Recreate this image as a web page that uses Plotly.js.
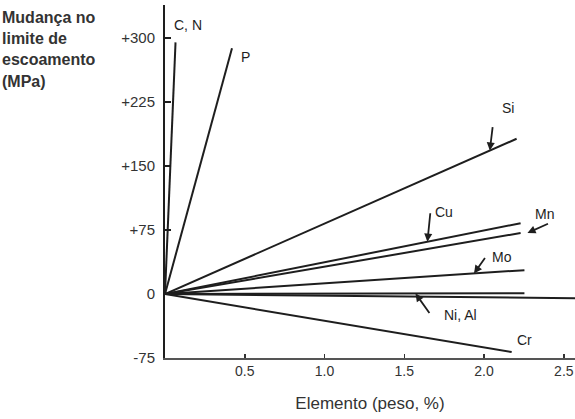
<!DOCTYPE html>
<html>
<head>
<meta charset="utf-8">
<script src="https://cdn.plot.ly/plotly-3.0.1.min.js"></script>
<style>html,body{margin:0;padding:0;background:#fff;}#chart{width:575px;height:419px;}</style>
</head>
<body>
<div id="chart"></div>
<script>
// Element lines: each starts at the origin and ends at (endWt, endMPa)
const elements = ['C, N', 'P', 'Si', 'Cu', 'Mn', 'Mo', 'Ni', 'Al', 'Cr'];
const endWt   = [0.066, 0.42, 2.204, 2.229, 2.229, 2.253, 2.253, 2.57, 2.173];
const endMPa  = [295, 288, 182, 83, 71.5, 28, 1, -5, -68];

const yTickVals = [300, 225, 150, 75, 0, -75];
const yTickText = ['+300', '+225', '+150', '+75', '0', '-75'];
const xTickVals = [0.5, 1.0, 1.5, 2.0, 2.5];
const xTickText = ['0.5', '1.0', '1.5', '2.0', '2.5'];

const labelTexts = ['C, N', 'P', 'Si', 'Cu', 'Mn', 'Mo', 'Ni, Al', 'Cr'];

const ink = '#1e1e1e';
const traces = elements.map((el, i) => ({
  type: 'scatter', mode: 'lines', name: el,
  x: [0, endWt[i]], y: [0, endMPa[i]],
  line: {color: ink, width: 2},
  hoverinfo: 'skip', showlegend: false
}));

// label placement (layout only)
const labelPos = [[0.147, 315], [0.507, 278], [2.148, 218], [1.75, 96], [2.377, 94], [2.11, 43], [1.85, -25], [2.253, -54]];
const annotations = labelTexts.map((t, i) => ({
  x: labelPos[i][0], y: labelPos[i][1], xref: 'x', yref: 'y', text: t, showarrow: false,
  font: {family: 'Liberation Sans, Arial, sans-serif', size: 14, color: ink}
}));

// pointer arrows: head on the line, tail offset in px
function onLine(idx, x) { return endMPa[idx] * x / endWt[idx]; }
const arrows = [
  [2.036, onLine(2, 2.036), 3, -25],
  [1.645, onLine(3, 1.645), 3, -30],
  [2.272, endMPa[4], 22, -10],
  [1.937, onLine(5, 1.937), 12, -17],
  [1.57, 0.7, 15, 21]
];
arrows.forEach(a => annotations.push({
  x: a[0], y: a[1], xref: 'x', yref: 'y', ax: a[2], ay: a[3], text: '',
  showarrow: true, arrowhead: 2, arrowsize: 0.9, arrowwidth: 1.8, arrowcolor: ink
}));

// y-axis title lines
const yTitle = ['Mudança no', 'limite de', 'escoamento', '(MPa)'];
yTitle.forEach((t, i) => annotations.push({
  xref: 'paper', yref: 'paper', x: -165/410, y: 1 - (i * 21.5 + 17 - 5) / 353,
  xanchor: 'left', yanchor: 'middle', text: '<b>' + t + '</b>', showarrow: false,
  font: {family: 'Liberation Sans, Arial, sans-serif', size: 16, color: '#333'}
}));

const layout = {
  width: 575, height: 419,
  margin: {l: 165, r: 0, t: 5, b: 61},
  paper_bgcolor: '#fff', plot_bgcolor: '#fff',
  showlegend: false,
  font: {family: 'Liberation Sans, Arial, sans-serif', color: ink},
  xaxis: {
    range: [0, 2.57], showgrid: false, zeroline: false,
    showline: true, linecolor: '#555', linewidth: 1.5,
    ticks: 'inside', ticklen: 4, tickwidth: 1.5, tickcolor: '#333',
    tickvals: xTickVals, ticktext: xTickText, ticklabeloverflow: 'allow',
    tickfont: {size: 14, color: '#333'},
    title: {text: 'Elemento (peso, %)', font: {size: 17, color: '#333'}, standoff: 19}
  },
  yaxis: {
    range: [-75, 338.8], showgrid: false, zeroline: false,
    showline: true, linecolor: ink, linewidth: 2,
    ticks: 'inside', ticklen: 6, tickwidth: 1.5, tickcolor: ink,
    tickvals: yTickVals, ticktext: yTickText, ticklabelstandoff: 5,
    tickfont: {size: 15, color: '#333'}
  },
  annotations: annotations
};

Plotly.newPlot('chart', traces, layout, {staticPlot: true, displayModeBar: false});
</script>
</body>
</html>
